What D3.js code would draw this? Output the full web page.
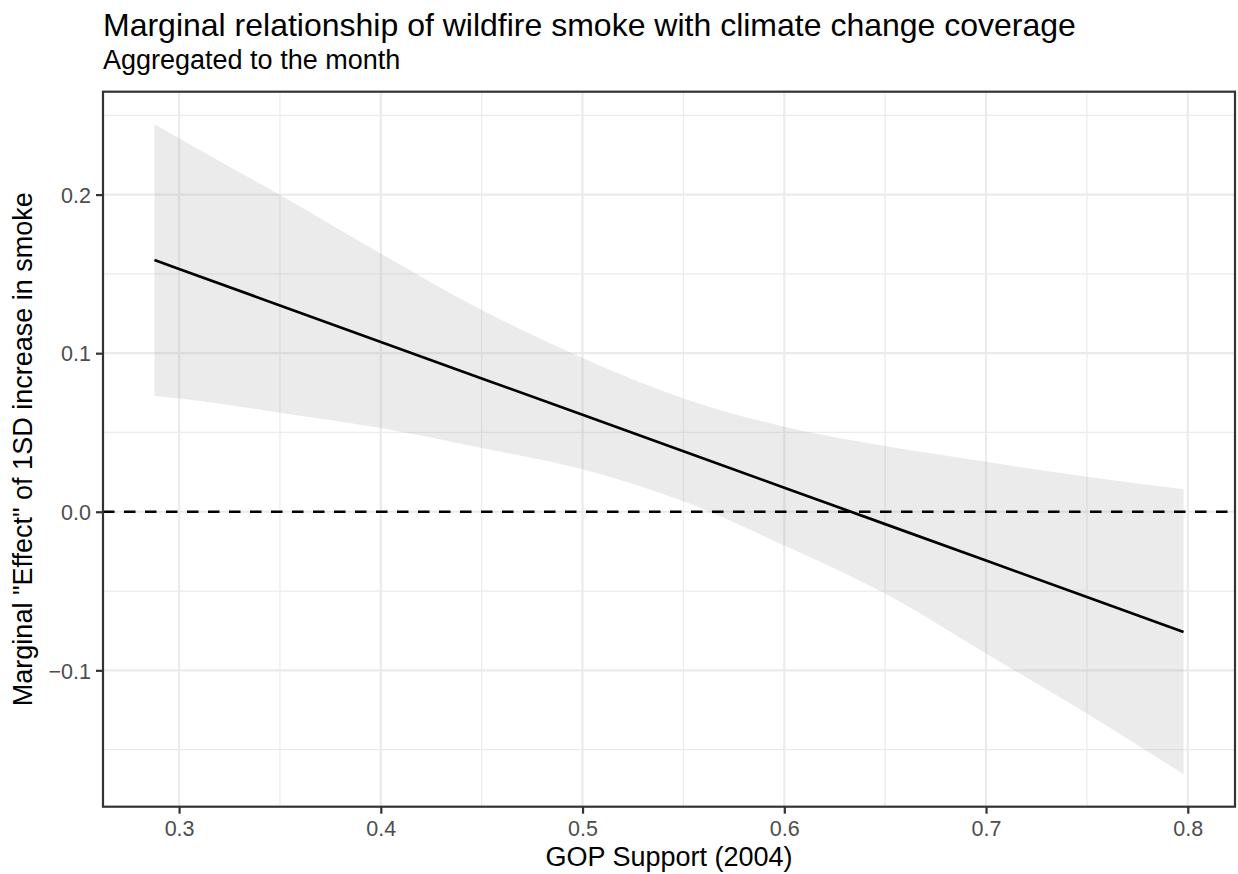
<!DOCTYPE html>
<html>
<head>
<meta charset="utf-8">
<script src="https://cdn.jsdelivr.net/npm/d3@7"></script>
<style>
  body { margin: 0; background: #ffffff; }
  svg { display: block; }
  text { font-family: "Liberation Sans", Arial, Helvetica, sans-serif; }
</style>
</head>
<body>
<svg id="chart" width="1238" height="874"></svg>
<script>
// GOP vote share (2004) at which the marginal effect is evaluated
const gopSupport = [0.2878, 0.30, 0.35, 0.40, 0.45, 0.50, 0.55, 0.60, 0.65, 0.70, 0.75, 0.7979];
// Marginal "effect" of a 1SD increase in smoke
const marginalEffect = [0.1587, 0.1531, 0.1301, 0.1071, 0.0841, 0.0612, 0.0382, 0.0152, -0.0078, -0.0308, -0.0538, -0.0758];
// Confidence band
const ciUpper = [0.2444, 0.2355, 0.1998, 0.1628, 0.1272, 0.0970, 0.0715, 0.0536, 0.0414, 0.0315, 0.0220, 0.0142];
const ciLower = [0.0730, 0.0715, 0.0625, 0.0528, 0.0402, 0.0268, 0.0066, -0.0212, -0.0516, -0.0894, -0.1273, -0.1655];

const xTicks = [0.3, 0.4, 0.5, 0.6, 0.7, 0.8];
const xTickLabels = ["0.3", "0.4", "0.5", "0.6", "0.7", "0.8"];
const xMinorBreaks = [0.35, 0.45, 0.55, 0.65, 0.75];
const yTicks = [-0.1, 0.0, 0.1, 0.2];
const yTickLabels = ["\u22120.1", "0.0", "0.1", "0.2"];
const yMinorBreaks = [-0.15, -0.05, 0.05, 0.15, 0.25];
const referenceLevel = 0;

const titleText = "Marginal relationship of wildfire smoke with climate change coverage";
const subtitleText = "Aggregated to the month";
const xTitle = "GOP Support (2004)";
const yTitle = "Marginal \"Effect\" of 1SD increase in smoke";

// panel geometry
const W = 1238, H = 874;
const panel = { left: 103, right: 1235, top: 91.7, bottom: 806.7 };

const rows = gopSupport.map((x, i) => ({
  x, est: marginalEffect[i], lo: ciLower[i], hi: ciUpper[i]
}));

// continuous scales with 5% expansion on each side
function expand(ext, mult) {
  const d = (ext[1] - ext[0]) * mult;
  return [ext[0] - d, ext[1] + d];
}
const xExt = d3.extent(gopSupport);
const yExt = [d3.min(ciLower), d3.max(ciUpper)];
const x = d3.scaleLinear().domain(expand(xExt, 0.05)).range([panel.left, panel.right]);
const y = d3.scaleLinear().domain(expand(yExt, 0.05)).range([panel.bottom, panel.top]);

const svg = d3.select("#chart");
svg.append("rect").attr("width", W).attr("height", H).attr("fill", "#ffffff");

// panel background
svg.append("rect")
  .attr("x", panel.left).attr("y", panel.top)
  .attr("width", panel.right - panel.left).attr("height", panel.bottom - panel.top)
  .attr("fill", "#ffffff");

const grid = svg.append("g");
// minor grid
grid.selectAll("line.vminor").data(xMinorBreaks).join("line")
  .attr("x1", d => x(d)).attr("x2", d => x(d))
  .attr("y1", panel.top).attr("y2", panel.bottom)
  .attr("stroke", "#EBEBEB").attr("stroke-width", 1.2);
grid.selectAll("line.hminor").data(yMinorBreaks).join("line")
  .attr("y1", d => y(d)).attr("y2", d => y(d))
  .attr("x1", panel.left).attr("x2", panel.right)
  .attr("stroke", "#EBEBEB").attr("stroke-width", 1.2);
// major grid
grid.selectAll("line.vmajor").data(xTicks).join("line")
  .attr("x1", d => x(d)).attr("x2", d => x(d))
  .attr("y1", panel.top).attr("y2", panel.bottom)
  .attr("stroke", "#EBEBEB").attr("stroke-width", 2.2);
grid.selectAll("line.hmajor").data(yTicks).join("line")
  .attr("y1", d => y(d)).attr("y2", d => y(d))
  .attr("x1", panel.left).attr("x2", panel.right)
  .attr("stroke", "#EBEBEB").attr("stroke-width", 2.2);

// confidence ribbon
const ribbon = d3.area()
  .x(d => x(d.x))
  .y0(d => y(d.lo))
  .y1(d => y(d.hi))
  .curve(d3.curveMonotoneX);
svg.append("path")
  .datum(rows)
  .attr("d", ribbon)
  .attr("fill", "#999999")
  .attr("fill-opacity", 0.2);

// estimate line
const estLine = d3.line().x(d => x(d.x)).y(d => y(d.est));
svg.append("path")
  .datum(rows)
  .attr("d", estLine)
  .attr("fill", "none")
  .attr("stroke", "#000000")
  .attr("stroke-width", 2.7);

// zero reference line
svg.append("line")
  .attr("x1", panel.left).attr("x2", panel.right)
  .attr("y1", y(referenceLevel)).attr("y2", y(referenceLevel))
  .attr("stroke", "#000000")
  .attr("stroke-width", 2.7)
  .attr("stroke-dasharray", "11.5,9.5");

// panel border
svg.append("rect")
  .attr("x", panel.left).attr("y", panel.top)
  .attr("width", panel.right - panel.left).attr("height", panel.bottom - panel.top)
  .attr("fill", "none").attr("stroke", "#333333").attr("stroke-width", 2.2);

// axes
const xAxis = d3.axisBottom(x)
  .tickValues(xTicks)
  .tickFormat((d, i) => xTickLabels[i])
  .tickSize(7).tickPadding(7);
const gx = svg.append("g").attr("transform", `translate(0,${panel.bottom})`).call(xAxis);

const yAxis = d3.axisLeft(y)
  .tickValues(yTicks)
  .tickFormat((d, i) => yTickLabels[i])
  .tickSize(7).tickPadding(5);
const gy = svg.append("g").attr("transform", `translate(${panel.left},0)`).call(yAxis);

[gx, gy].forEach(g => {
  g.select(".domain").remove();
  g.selectAll(".tick line").attr("stroke", "#333333").attr("stroke-width", 2.2);
  g.selectAll(".tick text")
    .attr("fill", "#4D4D4D")
    .style("font-size", "21.5px");
});
gy.selectAll(".tick text").attr("dy", "0.36em");

// titles
svg.append("text")
  .attr("x", panel.left).attr("y", 36)
  .attr("fill", "#000000")
  .style("font-size", "32px")
  .text(titleText);
svg.append("text")
  .attr("x", panel.left).attr("y", 69)
  .attr("fill", "#000000")
  .style("font-size", "27px")
  .text(subtitleText);
svg.append("text")
  .attr("x", (panel.left + panel.right) / 2).attr("y", 866)
  .attr("text-anchor", "middle")
  .attr("fill", "#000000")
  .style("font-size", "27px")
  .text(xTitle);
svg.append("text")
  .attr("transform", `translate(32,${(panel.top + panel.bottom) / 2}) rotate(-90)`)
  .attr("text-anchor", "middle")
  .attr("fill", "#000000")
  .style("font-size", "27px")
  .text(yTitle);
</script>
</body>
</html>
